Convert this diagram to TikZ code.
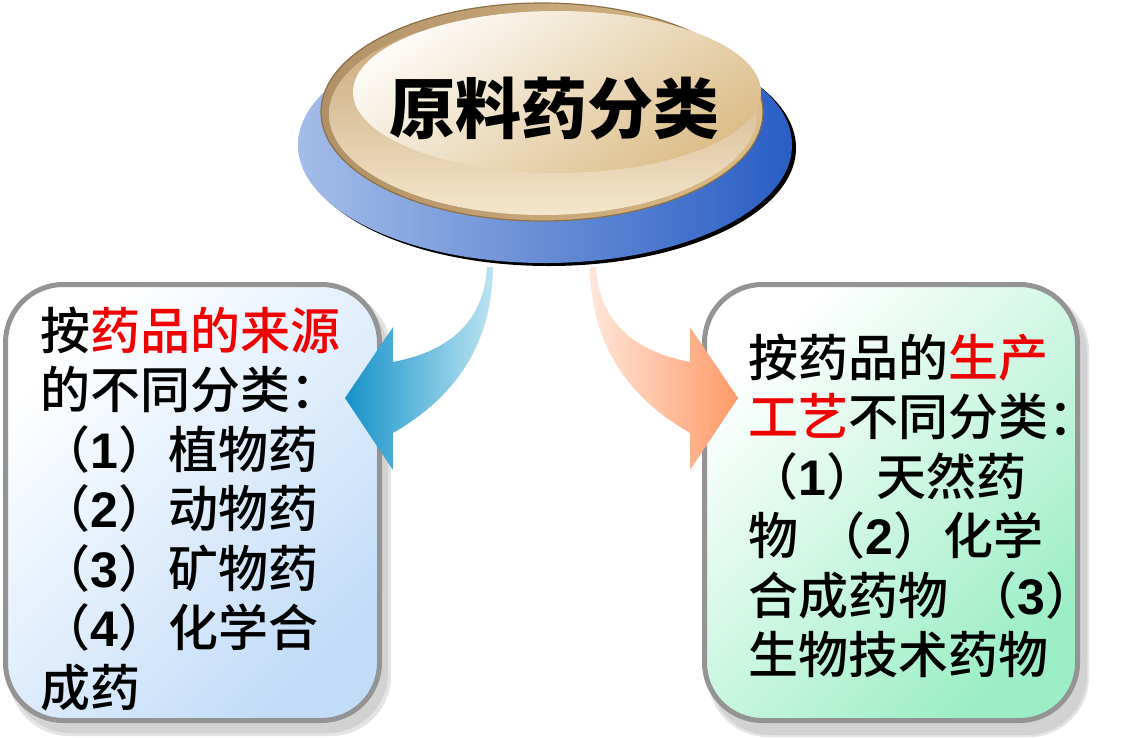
\documentclass[tikz,border=0pt]{standalone}
\usepackage{fontspec}
\newfontfamily\cjk{Noto Sans CJK SC}
\IfFontExistsTF{Noto Sans CJK SC Medium}{\newfontfamily\cjkm{Noto Sans CJK SC Medium}}{\newfontfamily\cjkm{Noto Sans CJK SC}}
\newfontfamily\lat{Liberation Sans}
\newcommand\mydig[1]{{\lat\bfseries #1}}
\definecolor{blueL}{HTML}{A4BCE8}
\definecolor{blueD}{HTML}{2A5EC4}
\definecolor{tanEdge}{HTML}{8C7048}
\definecolor{tanA}{HTML}{B09066}
\definecolor{tanB}{HTML}{DCBC88}
\definecolor{tanC}{HTML}{C4A272}
\definecolor{tanD}{HTML}{F4E6CC}
\definecolor{innerA}{HTML}{FDFBF7}
\definecolor{innerB}{HTML}{DCBE8A}
\definecolor{boxL}{HTML}{C2DCF8}
\definecolor{boxR}{HTML}{9CEEC6}
\definecolor{framec}{HTML}{949494}
\definecolor{shadowA}{HTML}{E4E4E4}
\definecolor{shadowB}{HTML}{D2D2D2}
\definecolor{arrB1}{HTML}{1592C8}
\definecolor{arrB2}{HTML}{BCE4F2}
\definecolor{arrO1}{HTML}{FF9A66}
\definecolor{arrO2}{HTML}{FFE6DA}
\definecolor{txtred}{HTML}{F00000}
\tikzset{
  body/.style={font={\cjkm\fontsize{50}{60}\selectfont}, inner sep=0pt, anchor=base west},
  boxframe/.style={draw=framec, line width=5pt, rounded corners=58pt},
  boxshadow/.style={rounded corners=60pt},
}
\begin{document}
\begin{tikzpicture}[x=1pt,y=-1pt]
\useasboundingbox (0,0) rectangle (1127,737);
\fill[white] (0,0) rectangle (1127,737);
% title disk
\fill[black] (549,148) ellipse (247 and 118);
\shade[left color=blueL, right color=blueD] (545,145) ellipse (247 and 118);
\shade[left color=tanA, right color=tanB, draw=tanEdge, line width=1.2pt] (542,112) ellipse (221 and 109);
\shade[top color=tanC, bottom color=tanD] (543,114) ellipse (214 and 101);
\shade[top color=innerA, bottom color=innerB, shading angle=35] (557,92) ellipse (204 and 81);
\node[font={\cjk\bfseries\fontsize{66}{70}\selectfont}, inner sep=0pt, anchor=base] (title) at (554,133) {原料药分类};
% left box
\fill[shadowA, boxshadow] (9,291) rectangle (391,736);
\fill[shadowB, boxshadow] (11,293) rectangle (388,733);
\shade[top color=white, bottom color=boxL, shading angle=45, rounded corners=58pt] (5.5,284.5) rectangle (379.5,720.5);
\draw[boxframe] (5.5,284.5) rectangle (379.5,720.5);
% right box
\fill[shadowA, boxshadow] (708,291) rectangle (1089,737);
\fill[shadowB, boxshadow] (710,293) rectangle (1087,735);
\shade[top color=white, bottom color=boxR, shading angle=45, rounded corners=58pt] (704.5,284.5) rectangle (1077.5,720.5);
\draw[boxframe] (704.5,284.5) rectangle (1077.5,720.5);
% arrows
\shade[left color=arrB1, right color=arrB2] (487,267) .. controls (484,325) and (445,352) .. (393,362) -- (393,327) -- (345,398) -- (393,470) -- (393,433) .. controls (450,400) and (492,350) .. (493,267) -- cycle;
\shade[left color=arrO2, right color=arrO1] (596,267) .. controls (599,325) and (638,352) .. (690,362) -- (690,327) -- (738,398) -- (690,470) -- (690,433) .. controls (633,400) and (591,350) .. (590,267) -- cycle;
% left text
\node[body] (l1) at (40,349) {按\textcolor{txtred}{药品的来源}};
\node[body] (l2) at (40,408) {的不同分类：};
\node[body] (l3) at (40,468) {（\mydig{1}）植物药};
\node[body] (l4) at (40,527) {（\mydig{2}）动物药};
\node[body] (l5) at (40,587) {（\mydig{3}）矿物药};
\node[body] (l6) at (40,646) {（\mydig{4}）化学合};
\node[body] (l7) at (40,706) {成药};
% right text
\node[body] (r1) at (748,376) {按药品的\textcolor{txtred}{生产}};
\node[body] (r2) at (748,435) {\textcolor{txtred}{工艺}不同分类：};
\node[body] (r3) at (748,495) {（\mydig{1}）天然药};
\node[body] (r4) at (748,554) {物\hspace{17pt}（\mydig{2}）化学};
\node[body] (r5) at (748,614) {合成药物\hspace{19pt}（\mydig{3}）};
\node[body] (r6) at (748,673) {生物技术药物};
\end{tikzpicture}
\end{document}
